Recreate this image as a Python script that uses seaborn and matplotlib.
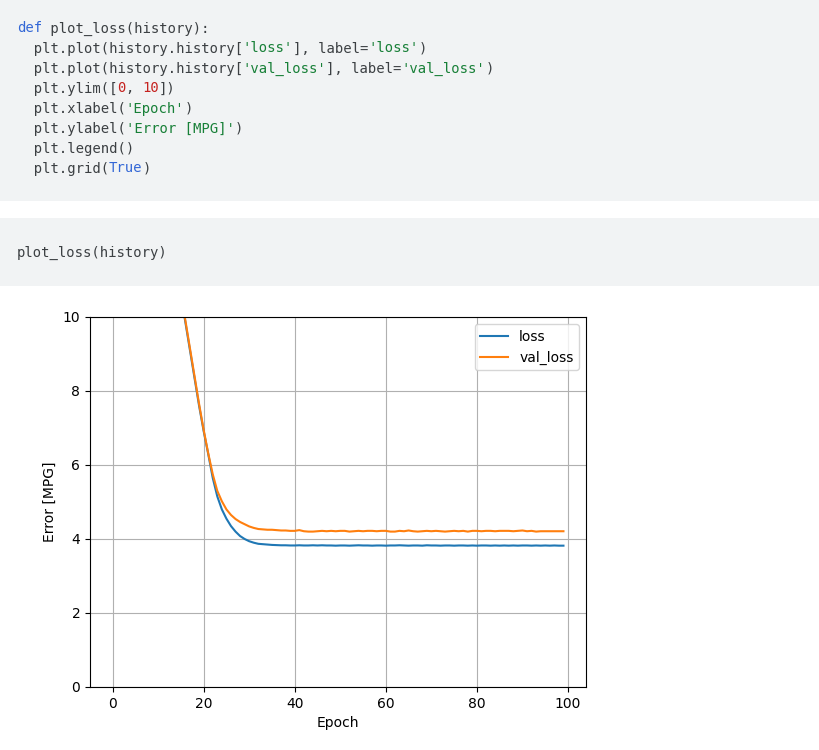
import numpy as np
import pandas as pd
import seaborn as sn
import matplotlib.pyplot as plt
from matplotlib.patches import Rectangle

# training history
epochs = list(range(100))
loss = [22.6, 21.8, 21.0, 20.2, 19.4, 18.6, 17.8, 17.0, 16.2, 15.4,
        14.6, 13.8, 13.0, 12.2, 11.4, 10.6, 9.85, 9.1, 8.35, 7.6,
        6.92, 6.3, 5.65, 5.15, 4.8, 4.55, 4.35, 4.2, 4.08, 4.0,
        3.94, 3.9, 3.87, 3.86, 3.85, 3.84, 3.835, 3.83, 3.83, 3.825,
        3.825, 3.83, 3.825, 3.825, 3.83, 3.825, 3.83, 3.825, 3.825, 3.82,
        3.825, 3.825, 3.82, 3.825, 3.83, 3.825, 3.825, 3.82, 3.825, 3.825,
        3.82, 3.825, 3.825, 3.83, 3.825, 3.82, 3.825, 3.825, 3.82, 3.83,
        3.825, 3.825, 3.82, 3.825, 3.825, 3.82, 3.825, 3.825, 3.82, 3.825,
        3.82, 3.825, 3.825, 3.82, 3.825, 3.82, 3.825, 3.82, 3.825, 3.82,
        3.825, 3.825, 3.82, 3.825, 3.82, 3.825, 3.82, 3.825, 3.82, 3.82]
val_loss = [22.4, 21.6, 20.8, 20.0, 19.2, 18.4, 17.6, 16.8, 16.0, 15.2,
            14.4, 13.6, 12.8, 12.0, 11.3, 10.6, 9.9, 9.15, 8.4, 7.65,
            6.95, 6.32, 5.75, 5.3, 5.02, 4.8, 4.65, 4.54, 4.46, 4.4,
            4.34, 4.3, 4.27, 4.26, 4.25, 4.25, 4.24, 4.23, 4.23, 4.22,
            4.22, 4.24, 4.21, 4.2, 4.2, 4.21, 4.22, 4.21, 4.22, 4.21,
            4.22, 4.22, 4.2, 4.21, 4.22, 4.21, 4.22, 4.22, 4.21, 4.22,
            4.22, 4.2, 4.2, 4.22, 4.21, 4.23, 4.21, 4.2, 4.21, 4.22,
            4.21, 4.22, 4.21, 4.2, 4.21, 4.22, 4.21, 4.22, 4.2, 4.22,
            4.22, 4.21, 4.22, 4.22, 4.21, 4.22, 4.22, 4.22, 4.21, 4.22,
            4.23, 4.21, 4.22, 4.2, 4.21, 4.21, 4.21, 4.21, 4.21, 4.21]
x_ticks = [0, 20, 40, 60, 80, 100]
y_ticks = [0, 2, 4, 6, 8, 10]

# notebook code cells, as (text, kind) tokens
code_cell = [
    [("def", "kw"), (" plot_loss(history):", "plain")],
    [("  plt.plot(history.history[", "plain"), ("'loss'", "str"), ("], label=", "plain"),
     ("'loss'", "str"), (")", "plain")],
    [("  plt.plot(history.history[", "plain"), ("'val_loss'", "str"), ("], label=", "plain"),
     ("'val_loss'", "str"), (")", "plain")],
    [("  plt.ylim([", "plain"), ("0", "num"), (", ", "plain"), ("10", "num"), ("])", "plain")],
    [("  plt.xlabel(", "plain"), ("'Epoch'", "str"), (")", "plain")],
    [("  plt.ylabel(", "plain"), ("'Error [MPG]'", "str"), (")", "plain")],
    [("  plt.legend()", "plain")],
    [("  plt.grid(", "plain"), ("True", "kw"), (")", "plain")],
]
call_cell = [[("plot_loss(history)", "plain")]]
token_colors = {"plain": "#3c4043", "kw": "#3367d6", "str": "#188038", "num": "#c5221f"}

W, H = 819, 750
fig = plt.figure(figsize=(W / 100, H / 100), dpi=100)


def px_rect(y0, y1):
    fig.add_artist(Rectangle((0, 1 - y1 / H), 1, (y1 - y0) / H, transform=fig.transFigure,
                             facecolor='#f1f3f4', edgecolor='none', zorder=0))


def draw_code(lines, y_first, step=20, x0=17, char_w=8.36):
    for i, tokens in enumerate(lines):
        col = 0
        for text, kind in tokens:
            fig.text((x0 + col * char_w) / W, 1 - (y_first + i * step) / H, text,
                     family='DejaVu Sans Mono', fontsize=10, color=token_colors[kind],
                     va='center', ha='left')
            col += len(text)


px_rect(0, 201)
draw_code(code_cell, 28.5)
px_rect(218, 286)
draw_code(call_cell, 252.5)

ax = fig.add_axes([90 / W, 1 - 687 / H, 496 / W, 370 / H])
hist = pd.DataFrame({'epoch': epochs, 'loss': loss, 'val_loss': val_loss})
sn.lineplot(data=hist, x='epoch', y='loss', ax=ax, label='loss', lw=1.5)
sn.lineplot(data=hist, x='epoch', y='val_loss', ax=ax, label='val_loss', lw=1.5)
ax.set_ylim([0, 10])
ax.set_xticks(x_ticks)
ax.set_yticks(y_ticks)
ax.set_xlabel('Epoch')
ax.set_ylabel('Error [MPG]')
ax.legend(loc='upper right')
ax.grid(True)

plt.savefig('out.png', dpi=100)
